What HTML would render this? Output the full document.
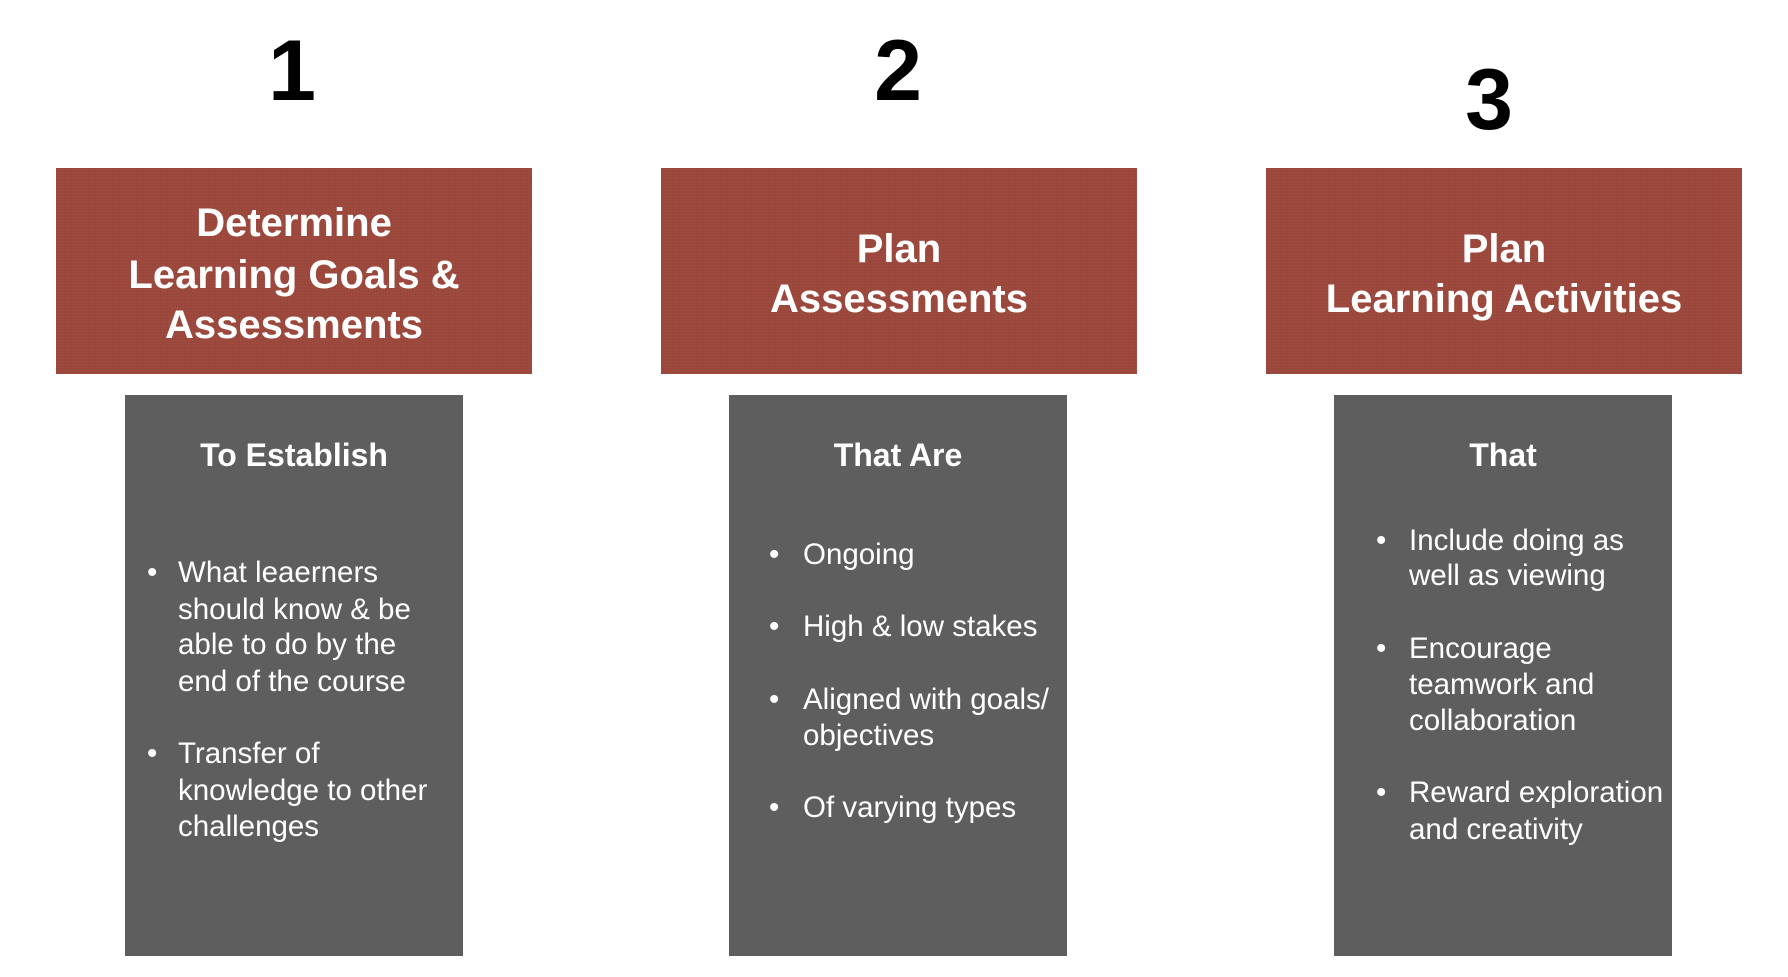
<!DOCTYPE html>
<html><head><meta charset="utf-8"><style>
html,body{margin:0;padding:0;background:#fff;}
body{width:1788px;height:977px;position:relative;overflow:hidden;font-family:"Liberation Sans",Arial,sans-serif;}
.num{position:absolute;font-weight:bold;font-size:86px;line-height:86px;color:#000;width:200px;text-align:center;}
.red{position:absolute;top:168px;width:476px;height:206px;background:#9b463a;background-image:radial-gradient(rgba(255,255,255,0.04) 1px,transparent 1px);background-size:3px 3px;}
.gray{position:absolute;top:395px;width:338px;height:561px;background:#5e5e5e;}
.t{position:absolute;color:#fff;white-space:nowrap;}
.rt{font-size:40px;font-weight:bold;line-height:52px;text-align:center;width:476px;left:0;}
.gh{font-size:32px;font-weight:bold;line-height:40px;text-align:center;width:338px;left:0;top:40px;}
.b{font-size:29.5px;line-height:36px;}
</style></head><body>
<div class="num" style="left:192px;top:28px;">1</div>
<div class="num" style="left:798px;top:28px;">2</div>
<div class="num" style="left:1389px;top:57px;">3</div>

<div class="red" style="left:56px;">
<div class="t rt" style="top:29px;">Determine</div>
<div class="t rt" style="top:81px;">Learning Goals &amp;</div>
<div class="t rt" style="top:131px;">Assessments</div>
</div>
<div class="red" style="left:661px;">
<div class="t rt" style="top:55px;">Plan</div>
<div class="t rt" style="top:105px;">Assessments</div>
</div>
<div class="red" style="left:1266px;">
<div class="t rt" style="top:55px;">Plan</div>
<div class="t rt" style="top:105px;">Learning Activities</div>
</div>

<div class="gray" style="left:125px;">
<div class="t gh">To Establish</div>
<div class="t b" style="left:22px;top:160px;">•</div>
<div class="t b" style="left:53px;top:160px;">What leaerners</div>
<div class="t b" style="left:53px;top:197px;">should know &amp; be</div>
<div class="t b" style="left:53px;top:232px;">able to do by the</div>
<div class="t b" style="left:53px;top:269px;">end of the course</div>
<div class="t b" style="left:22px;top:341px;">•</div>
<div class="t b" style="left:53px;top:341px;">Transfer of</div>
<div class="t b" style="left:53px;top:378px;">knowledge to other</div>
<div class="t b" style="left:53px;top:414px;">challenges</div>
</div>

<div class="gray" style="left:729px;">
<div class="t gh">That Are</div>
<div class="t b" style="left:40px;top:142px;">•</div>
<div class="t b" style="left:74px;top:142px;">Ongoing</div>
<div class="t b" style="left:40px;top:214px;">•</div>
<div class="t b" style="left:74px;top:214px;">High &amp; low stakes</div>
<div class="t b" style="left:40px;top:287px;">•</div>
<div class="t b" style="left:74px;top:287px;">Aligned with goals/</div>
<div class="t b" style="left:74px;top:323px;">objectives</div>
<div class="t b" style="left:40px;top:395px;">•</div>
<div class="t b" style="left:74px;top:395px;">Of varying types</div>
</div>

<div class="gray" style="left:1334px;">
<div class="t gh">That</div>
<div class="t b" style="left:42px;top:128px;">•</div>
<div class="t b" style="left:75px;top:128px;">Include doing as</div>
<div class="t b" style="left:75px;top:163px;">well as viewing</div>
<div class="t b" style="left:42px;top:236px;">•</div>
<div class="t b" style="left:75px;top:236px;">Encourage</div>
<div class="t b" style="left:75px;top:272px;">teamwork and</div>
<div class="t b" style="left:75px;top:308px;">collaboration</div>
<div class="t b" style="left:42px;top:380px;">•</div>
<div class="t b" style="left:75px;top:380px;">Reward exploration</div>
<div class="t b" style="left:75px;top:417px;">and creativity</div>
</div>
</body></html>
